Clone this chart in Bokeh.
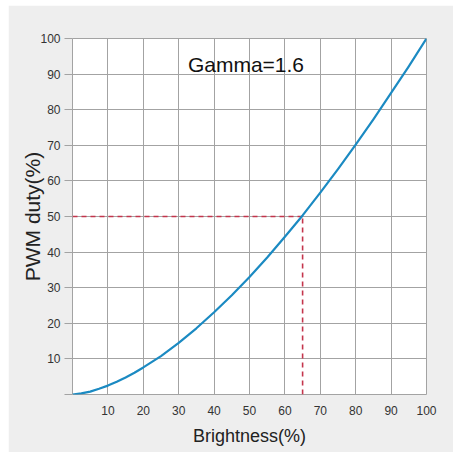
from bokeh.plotting import figure
from bokeh.models import Label, FixedTicker, Range1d
from bokeh.embed import file_html
from bokeh.resources import INLINE

# ── Data ────────────────────────────────────────────────────
brightness = [0, 2.5, 5, 7.5, 10, 12.5, 15, 17.5, 20, 25, 30, 35, 40, 45, 50,
              55, 60, 65, 70, 75, 80, 85, 90, 95, 100]
duty = [0.0, 0.3, 0.8, 1.6, 2.5, 3.6, 4.8, 6.1, 7.6, 10.8, 14.5, 18.6, 23.1,
        27.9, 33.0, 38.5, 44.3, 50.3, 56.7, 63.3, 70.2, 77.3, 84.7, 92.2, 100.0]
ticks = [0, 10, 20, 30, 40, 50, 60, 70, 80, 90, 100]
ref_brightness = 65
ref_duty = 50
gamma_label = "Gamma=1.6"

COLORS = {
    "panel": "#eeeeee",
    "plot": "#ffffff",
    "grid": "#a3a3a3",
    "text": "#333333",
    "label": "#222222",
    "curve": "#1b8ac2",
    "ref": "#c4354c",
}
FONT = "Liberation Sans"

p = figure(
    width=445, height=447,
    x_range=Range1d(0, 100), y_range=Range1d(0, 100),
    output_backend="svg", toolbar_location=None, tools="",
    background_fill_color=COLORS["plot"],
    border_fill_color=COLORS["panel"],
    outline_line_color=COLORS["grid"],
    min_border_left=64, min_border_right=27,
    min_border_top=33, min_border_bottom=58,
)
p.margin = (5, 0, 0, 8)

# grid
p.xgrid.grid_line_color = COLORS["grid"]
p.ygrid.grid_line_color = COLORS["grid"]
p.xaxis.ticker = FixedTicker(ticks=ticks)
p.yaxis.ticker = FixedTicker(ticks=ticks)
p.xgrid.ticker = FixedTicker(ticks=ticks)
p.ygrid.ticker = FixedTicker(ticks=ticks)

# axes
p.axis.axis_line_color = None
p.axis.minor_tick_line_color = None
p.axis.major_label_text_font = FONT
p.axis.major_label_text_font_size = "12px"
p.axis.major_label_text_color = COLORS["text"]
p.axis.axis_label_text_font = FONT
p.axis.axis_label_text_font_style = "normal"
p.axis.axis_label_text_color = COLORS["label"]
p.axis.major_label_overrides = {0: ""}

p.xaxis.major_tick_out = 0
p.xaxis.major_tick_in = 0
p.xaxis.major_label_standoff = 11
p.xaxis.axis_label = "Brightness(%)"
p.xaxis.axis_label_text_font_size = "18px"
p.xaxis.axis_label_standoff = 8

p.yaxis.major_tick_out = 8
p.yaxis.major_tick_in = 0
p.yaxis.major_tick_line_color = COLORS["grid"]
p.yaxis.major_label_standoff = 4
p.yaxis.axis_label = "PWM duty(%)"
p.yaxis.axis_label_text_font_size = "21px"
p.yaxis.axis_label_standoff = -7

# reference lines at 50% duty
p.line([0, ref_brightness], [ref_duty, ref_duty], line_color=COLORS["ref"],
       line_width=1.6, line_dash="5 4")
p.line([ref_brightness, ref_brightness], [0, ref_duty], line_color=COLORS["ref"],
       line_width=1.6, line_dash="5 4")

# gamma curve
p.line(brightness, duty, line_color=COLORS["curve"], line_width=2.2,
       line_join="round")

p.add_layout(Label(x=49, y=92.8, text=gamma_label, text_align="center",
                   text_baseline="alphabetic", text_font=FONT,
                   text_font_size="21px", text_color="#111111"))

open("out.html", "w").write(file_html(p, INLINE))
